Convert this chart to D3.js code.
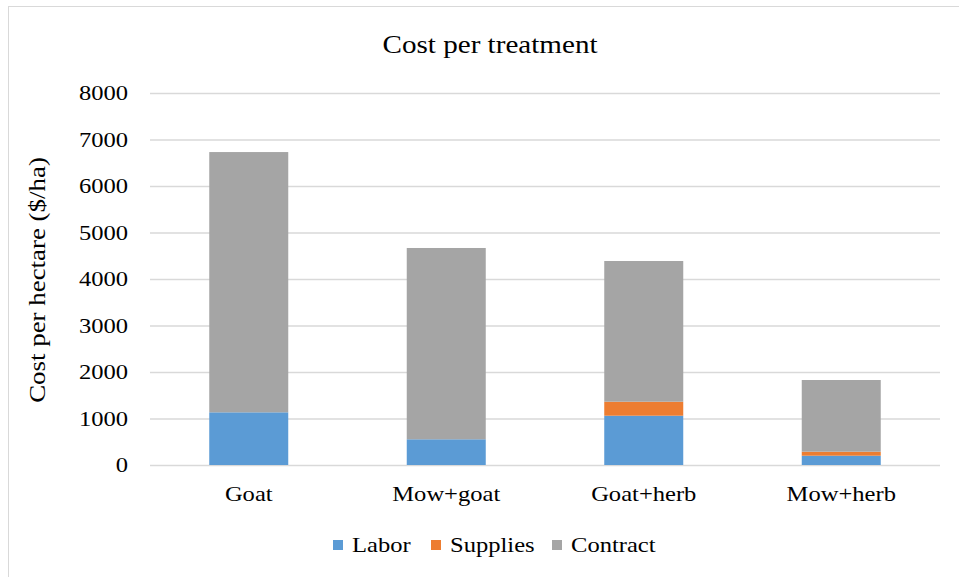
<!DOCTYPE html>
<html>
<head>
<meta charset="utf-8">
<script src="https://cdn.jsdelivr.net/npm/d3@7"></script>
<style>
	body { margin: 0; background: #fff; }
	text { font-family: "Liberation Serif", "Times New Roman", serif; fill: #000; }
</style>
</head>
<body>
<svg id="chart" width="959" height="577"></svg>
<script>
// stacked cost bars per treatment

var treatments = ["Goat", "Mow+goat", "Goat+herb", "Mow+herb"];
var seriesNames = ["Labor", "Supplies", "Contract"];
var labor    = [1133, 553, 1060, 200];
var supplies = [0, 0, 301, 86];
var contract = [5597, 4114, 3026, 1542];
var yTicks = [0, 1000, 2000, 3000, 4000, 5000, 6000, 7000, 8000];
var colors = ["#5B9BD5", "#ED7D31", "#A5A5A5"];

var svg = d3.select("#chart");
var plotL = 150, plotR = 940, plotT = 93, plotB = 465;
var sx = 1.17; // the source text is a bit wider than Liberation Serif

// place a text at (px,py) with horizontal stretch
function at(px, py, rot){
	return "translate(" + px + "," + py + ")" + (rot ? "rotate(" + rot + ")" : "") + "scale(" + sx + ",1)";
}

// outer chart border (runs off the right/bottom edge)
svg.append("rect")
	.attr("x", 8.5).attr("y", 6.5)
	.attr("width", 980).attr("height", 600)
	.attr("fill", "none").attr("stroke", "#D9D9D9").attr("stroke-width", 1);

var rows = treatments.map(function(t, i){
	return { name: t, Labor: labor[i], Supplies: supplies[i], Contract: contract[i] };
});
var stack = d3.stack().keys(seriesNames)(rows);

var x = d3.scaleBand().domain(treatments).range([plotL, plotR])
	.paddingInner(0.6).paddingOuter(0.3);
var y = d3.scaleLinear().domain([0, 8000]).range([plotB, plotT]);

// gridlines
svg.append("g").selectAll("line").data(yTicks).enter().append("line")
	.attr("x1", plotL).attr("x2", plotR)
	.attr("y1", function(d){ return y(d) + 0.5; })
	.attr("y2", function(d){ return y(d) + 0.5; })
	.attr("stroke", "#D9D9D9").attr("stroke-width", 1.3);

// y tick labels
svg.append("g").selectAll("text").data(yTicks).enter().append("text")
	.attr("transform", function(d){ return at(128, y(d)); })
	.attr("dy", "0.35em")
	.attr("text-anchor", "end")
	.style("font-size", "21px")
	.text(function(d){ return d; });

// bars
svg.append("g").selectAll("g").data(stack).enter().append("g")
	.attr("fill", function(d, i){ return colors[i]; })
	.selectAll("rect").data(function(d){ return d; }).enter().append("rect")
	.attr("x", function(d){ return x(d.data.name); })
	.attr("width", x.bandwidth())
	.attr("y", function(d){ return y(d[1]); })
	.attr("height", function(d){ return y(d[0]) - y(d[1]); });

// x labels
svg.append("g").selectAll("text").data(treatments).enter().append("text")
	.attr("transform", function(d){ return at(x(d) + x.bandwidth() / 2, 501); })
	.attr("text-anchor", "middle")
	.style("font-size", "21px")
	.text(function(d){ return d; });

// title
svg.append("text")
	.attr("transform", "translate(490,53)scale(1.12,1)")
	.attr("text-anchor", "middle")
	.style("font-size", "26px")
	.text("Cost per treatment");

// y axis title
svg.append("text")
	.attr("transform", at(45, 280, -90))
	.attr("text-anchor", "middle")
	.style("font-size", "23px")
	.text("Cost per hectare ($/ha)");

// legend
var legendX = [333, 431, 552];
var legend = svg.append("g").selectAll("g").data(seriesNames).enter().append("g")
	.attr("transform", function(d, i){ return "translate(" + legendX[i] + ",545)"; });
legend.append("rect")
	.attr("x", 0).attr("y", -5).attr("width", 10).attr("height", 10)
	.attr("fill", function(d, i){ return colors[i]; });
legend.append("text")
	.attr("transform", at(19, 0))
	.attr("dy", "0.35em")
	.style("font-size", "21px")
	.text(function(d){ return d; });
</script>
</body>
</html>
